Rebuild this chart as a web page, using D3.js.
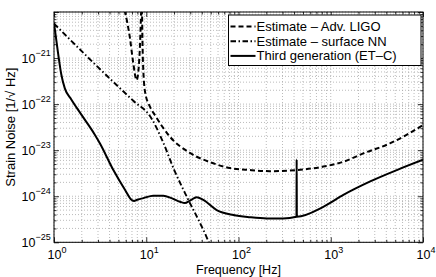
<!DOCTYPE html>
<html>
<head>
<meta charset="utf-8">
<script src="https://cdn.jsdelivr.net/npm/d3@7"></script>
<style>
  body { margin: 0; background: #fff; }
  text { font-family: "Liberation Sans", Arial, sans-serif; fill: #000; }
</style>
</head>
<body>
<div id="chart"></div>
<script>
// Third generation (ET-C) sensitivity
const etFreq  = [1, 1.1, 1.2, 1.31, 1.54, 1.98, 2.76, 3.15, 4.4, 5.9, 6.96, 7.4, 7.86, 9.3, 11.9, 15.3, 18.8, 23.2, 26.2, 29.7, 35.2, 41.5, 58, 88, 133, 203, 304, 425, 427, 429, 830, 1370, 2680, 5200, 10000];
const etNoise = [5.8e-21, 1.4e-21, 4.4e-22, 2.2e-22, 1.26e-22, 5.9e-23, 2.2e-23, 1.4e-23, 3.7e-24, 1.37e-24, 8.3e-25, 7.9e-25, 8.3e-25, 9.1e-25, 1.03e-24, 1.03e-24, 9.1e-25, 7.6e-25, 7.1e-25, 8.0e-25, 9.5e-25, 8.3e-25, 5.0e-25, 3.9e-25, 3.5e-25, 3.3e-25, 3.3e-25, 3.6e-25, 6.3e-24, 3.6e-25, 5.9e-25, 1.07e-24, 2.1e-24, 3.7e-24, 6.2e-24];

// Estimate - Adv. LIGO
const ligoFreq  = [5.5, 5.88, 6.66, 7.2, 7.86, 8.2, 8.55, 8.8, 8.9, 9.0, 9.1, 9.2, 9.7, 11.0, 12.4, 18.1, 29.7, 49, 80.7, 133, 219, 427, 830, 1370, 2250, 4370, 10000];
const ligoNoise = [1.6e-20, 1e-20, 2.7e-21, 8.3e-22, 3.3e-22, 5e-22, 1.9e-21, 1e-20, 1.8e-20, 1e-20, 2.5e-21, 9.1e-22, 1.86e-22, 8.7e-23, 5.8e-23, 1.95e-23, 8.7e-24, 5.5e-24, 4.1e-24, 3.7e-24, 3.5e-24, 3.7e-24, 4.4e-24, 5.6e-24, 8.5e-24, 1.4e-23, 3.5e-23];

// Estimate - surface NN
const nnFreq  = [1, 4.58, 7.18, 11.4, 15, 20, 27.7, 38, 41.6, 47.8, 55];
const nnNoise = [5.6e-21, 2.8e-22, 1.2e-22, 4.9e-23, 1.6e-23, 3.8e-24, 9.5e-25, 2.7e-25, 1.86e-25, 1.0e-25, 5.6e-26];

const xTickExps = [0, 1, 2, 3, 4];
const yTickExps = [-25, -24, -23, -22, -21];
const legendLabels = ['Estimate \u2013 Adv. LIGO', 'Estimate \u2013 surface NN', 'Third generation (ET\u2013C)'];

const width = 436, height = 277;
const margin = { top: 12, right: 13, bottom: 34.7, left: 54 };
const innerW = width - margin.left - margin.right;
const innerH = height - margin.top - margin.bottom;

const svg = d3.select('#chart').append('svg')
  .attr('width', width).attr('height', height);

const g = svg.append('g')
  .attr('transform', `translate(${margin.left},${margin.top})`);

const x = d3.scaleLog().domain([1, 1e4]).range([0, innerW]);
const y = d3.scaleLog().domain([1e-25, 1e-20]).range([innerH, 0]);

// major + minor tick positions
const xMajor = xTickExps.map(e => Math.pow(10, e));
const xMinor = [];
xTickExps.slice(0, -1).forEach(e => { for (let k = 2; k <= 9; k++) xMinor.push(k * Math.pow(10, e)); });
const yMajor = yTickExps.concat([-20]).map(e => Math.pow(10, e));
const yMinor = [];
yTickExps.forEach(e => { for (let k = 2; k <= 9; k++) yMinor.push(k * Math.pow(10, e)); });

// grid (dotted, MATLAB style)
const grid = g.append('g').attr('class', 'grid')
  .attr('stroke', '#aaa').attr('stroke-width', 0.8).attr('stroke-dasharray', '1,2');
grid.selectAll('.gx').data(xMajor.concat(xMinor)).enter().append('line')
  .attr('x1', d => x(d)).attr('x2', d => x(d)).attr('y1', 0).attr('y2', innerH);
grid.selectAll('.gy').data(yMajor.concat(yMinor)).enter().append('line')
  .attr('y1', d => y(d)).attr('y2', d => y(d)).attr('x1', 0).attr('x2', innerW);

// ticks pointing inward on all four sides
const noLabel = () => '';
g.append('g').attr('transform', `translate(0,${innerH})`)
  .call(d3.axisBottom(x).tickValues(xMajor).tickSize(-5).tickFormat(noLabel));
g.append('g').attr('transform', `translate(0,${innerH})`)
  .call(d3.axisBottom(x).tickValues(xMinor).tickSize(-2.5).tickFormat(noLabel));
g.append('g')
  .call(d3.axisTop(x).tickValues(xMajor).tickSize(-5).tickFormat(noLabel));
g.append('g')
  .call(d3.axisTop(x).tickValues(xMinor).tickSize(-2.5).tickFormat(noLabel));
g.append('g')
  .call(d3.axisLeft(y).tickValues(yMajor).tickSize(-5).tickFormat(noLabel));
g.append('g')
  .call(d3.axisLeft(y).tickValues(yMinor).tickSize(-2.5).tickFormat(noLabel));
g.append('g').attr('transform', `translate(${innerW},0)`)
  .call(d3.axisRight(y).tickValues(yMajor).tickSize(-5).tickFormat(noLabel));
g.append('g').attr('transform', `translate(${innerW},0)`)
  .call(d3.axisRight(y).tickValues(yMinor).tickSize(-2.5).tickFormat(noLabel));
g.selectAll('.domain').remove();
g.selectAll('.tick line').attr('stroke', '#000').attr('stroke-width', 0.8);

// clip for curves
svg.append('clipPath').attr('id', 'plotclip')
  .append('rect').attr('width', innerW).attr('height', innerH);

const line = d3.line()
  .x(d => x(d[0]))
  .y(d => y(d[1]))
  .curve(d3.curveMonotoneX);

const series = [
  { name: legendLabels[0], data: d3.zip(ligoFreq, ligoNoise), dash: '5,3', w: 2 },
  { name: legendLabels[1], data: d3.zip(nnFreq, nnNoise), dash: '5.5,2.5,1.5,2.5', w: 1.9 },
  { name: legendLabels[2], data: d3.zip(etFreq, etNoise), dash: null, w: 2 }
];

const curves = g.append('g').attr('clip-path', 'url(#plotclip)');
curves.selectAll('path').data(series).enter().append('path')
  .attr('fill', 'none')
  .attr('stroke', '#000')
  .attr('stroke-width', d => d.w)
  .attr('stroke-dasharray', d => d.dash)
  .attr('stroke-linejoin', 'round')
  .attr('d', d => line(d.data));

// box
g.append('rect').attr('width', innerW).attr('height', innerH)
  .attr('fill', 'none').attr('stroke', '#000').attr('stroke-width', 1);

// tick labels with superscript exponents
const xl = g.append('g').selectAll('text').data(xTickExps).enter().append('text')
  .attr('x', d => x(Math.pow(10, d)) + 3)
  .attr('y', innerH + 16.5)
  .attr('text-anchor', 'middle')
  .attr('font-size', 12.5);
xl.append('tspan').text('10');
xl.append('tspan').attr('dy', -6).attr('font-size', 9).text(d => d);

const yl = g.append('g').selectAll('text').data(yTickExps).enter().append('text')
  .attr('x', -32.5)
  .attr('y', d => y(Math.pow(10, d)) + 4.5)
  .attr('text-anchor', 'start')
  .attr('font-size', 12.5);
yl.append('tspan').text('10');
yl.append('tspan').attr('dy', -7).attr('font-size', 9).text(d => '\u2212' + Math.abs(d));

// axis titles
svg.append('text')
  .attr('x', margin.left + innerW / 2)
  .attr('y', height - 3)
  .attr('text-anchor', 'middle')
  .attr('font-size', 12.5)
  .text('Frequency [Hz]');

svg.append('text')
  .attr('transform', `translate(15,${margin.top + innerH / 2}) rotate(-90)`)
  .attr('text-anchor', 'middle')
  .attr('font-size', 13)
  .text('Strain Noise [1/\u221A Hz]');

// legend
const lg = svg.append('g').attr('transform', 'translate(228.5,15)');
lg.append('rect').attr('width', 192.5).attr('height', 50.5)
  .attr('fill', '#fff').attr('stroke', '#000').attr('stroke-width', 1);
const items = lg.selectAll('.item').data(series).enter().append('g')
  .attr('transform', (d, i) => `translate(0,${11.5 + i * 14.7})`);
items.append('line')
  .attr('x1', 2).attr('x2', 27)
  .attr('stroke', '#000')
  .attr('stroke-width', d => d.w)
  .attr('stroke-dasharray', d => d.dash);
items.append('text')
  .attr('x', 28)
  .attr('y', 4.5)
  .attr('font-size', 13)
  .text(d => d.name);
</script>
</body>
</html>
